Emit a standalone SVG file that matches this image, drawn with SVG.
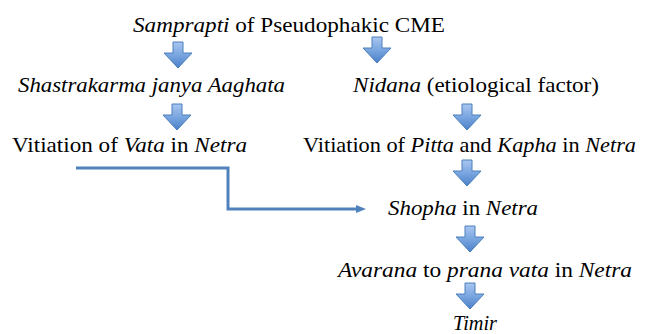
<svg xmlns="http://www.w3.org/2000/svg" width="649" height="334" viewBox="0 0 649 334">
<defs>
  <linearGradient id="g" x1="0" y1="0" x2="0" y2="1">
    <stop offset="0" stop-color="#a9c6f0"/>
    <stop offset="0.5" stop-color="#7aa6e0"/>
    <stop offset="1" stop-color="#4a80c8"/>
  </linearGradient>
  <marker id="ah" markerWidth="10" markerHeight="8" refX="1" refY="4" orient="auto" markerUnits="userSpaceOnUse">
    <path d="M0,0 L10,4 L0,8 Z" fill="#4f81bd"/>
  </marker>
  <path id="da" d="M-5,0 H5 V11 H14 L0,26 L-14,11 H-5 Z" fill="url(#g)" stroke="#4a7ebb" stroke-width="1"/>
</defs>

<g id="connectors">
  <polyline points="76,168 228,168 228,209 357,209" fill="none" stroke="#4f81bd" stroke-width="3" marker-end="url(#ah)"/>
  <use href="#da" transform="translate(178,42)"/>
  <use href="#da" transform="translate(377,37)"/>
  <use href="#da" transform="translate(177,104)"/>
  <use href="#da" transform="translate(467,104)"/>
  <use href="#da" transform="translate(467,160)"/>
  <use href="#da" transform="translate(470,226)"/>
  <use href="#da" transform="translate(470,283)"/>
</g>

<g font-size="21.5" fill="#000">
<g id="n-samprapti">
  <text font-family="Liberation Serif" x="133" y="32" textLength="312" lengthAdjust="spacingAndGlyphs"><tspan font-style="italic">Samprapti</tspan> of Pseudophakic CME</text>
</g>
<g id="n-shastrakarma">
  <text font-family="Liberation Serif" font-style="italic" x="18" y="92" textLength="267" lengthAdjust="spacingAndGlyphs">Shastrakarma janya Aaghata</text>
</g>
<g id="n-nidana">
  <text font-family="Liberation Serif" x="353" y="92" textLength="246" lengthAdjust="spacingAndGlyphs"><tspan font-style="italic">Nidana</tspan> (etiological factor)</text>
</g>
<g id="n-vata">
  <text font-family="Liberation Serif" x="12" y="152" textLength="235" lengthAdjust="spacingAndGlyphs">Vitiation of <tspan font-style="italic">Vata</tspan> in <tspan font-style="italic">Netra</tspan></text>
</g>
<g id="n-pitta">
  <text font-family="Liberation Serif" x="303" y="152" textLength="333" lengthAdjust="spacingAndGlyphs">Vitiation of <tspan font-style="italic">Pitta</tspan> and <tspan font-style="italic">Kapha</tspan> in <tspan font-style="italic">Netra</tspan></text>
</g>
<g id="n-shopha">
  <text font-family="Liberation Serif" x="388" y="215" textLength="150" lengthAdjust="spacingAndGlyphs"><tspan font-style="italic">Shopha</tspan> in <tspan font-style="italic">Netra</tspan></text>
</g>
<g id="n-avarana">
  <text font-family="Liberation Serif" x="338" y="277" textLength="294" lengthAdjust="spacingAndGlyphs"><tspan font-style="italic">Avarana</tspan> to <tspan font-style="italic">prana vata</tspan> in <tspan font-style="italic">Netra</tspan></text>
</g>
<g id="n-timir">
  <text font-family="Liberation Serif" font-style="italic" x="453" y="330" textLength="44" lengthAdjust="spacingAndGlyphs">Timir</text>
</g>
</g>
</svg>
